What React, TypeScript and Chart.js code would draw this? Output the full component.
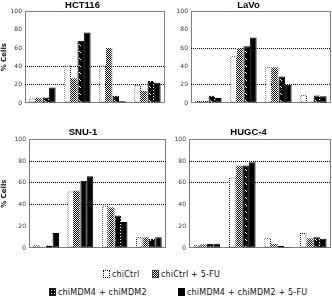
import React, { useEffect, useRef } from "react";
import { Chart, registerables } from "chart.js";
Chart.register(...registerables);

const categories = ["Sub G1", "G1", "S", "G2/M"];
const seriesNames = ["chiCtrl", "chiCtrl + 5-FU", "chiMDM4 + chiMDM2", "chiMDM4 + chiMDM2 + 5-FU"];
const yTickMin = 0;
const yTickMax = 100;
const yTickStep = 20;

const hct116Ctrl = [5, 41, 41, 20];
const hct116Ctrl5FU = [6, 27, 60, 13];
const hct116Mdm = [6, 68, 8, 24];
const hct116Mdm5FU = [17, 77, 2, 22];

const lavoCtrl = [2.5, 51, 39, 9];
const lavoCtrl5FU = [2.5, 60, 39, 1.6];
const lavoMdm = [8, 62, 29, 8.2];
const lavoMdm5FU = [5.4, 71.5, 20, 7.3];

const snu1Ctrl = [3, 52, 39, 10];
const snu1Ctrl5FU = [1.2, 53, 37.5, 10];
const snu1Mdm = [2.2, 62, 30, 8.3];
const snu1Mdm5FU = [13.8, 66, 24, 10];

const hugc4Ctrl = [3, 65, 9, 13.7];
const hugc4Ctrl5FU = [3.4, 76, 4, 9];
const hugc4Mdm = [4, 76, 2, 10];
const hugc4Mdm5FU = [4, 79, 1, 8.5];

const panelTitles = ["HCT116", "LaVo", "SNU-1", "HUGC-4"];
const panelSeries = [
  [hct116Ctrl, hct116Ctrl5FU, hct116Mdm, hct116Mdm5FU],
  [lavoCtrl, lavoCtrl5FU, lavoMdm, lavoMdm5FU],
  [snu1Ctrl, snu1Ctrl5FU, snu1Mdm, snu1Mdm5FU],
  [hugc4Ctrl, hugc4Ctrl5FU, hugc4Mdm, hugc4Mdm5FU],
];
const panelGridValues = [
  [20, 40],
  [20, 60],
  [40, 60, 80],
  [60, 80],
];

type Layout = {
  left: number; top: number; width: number; height: number;
  yWidth: number; padRight: number; padBottom: number;
  yTitle: boolean; xLabels: boolean; titleTop: number; titleBottom: number;
};

const layouts: Layout[] = [
  { left: 0, top: 0, width: 166, height: 122, yWidth: 25, padRight: 1, padBottom: 5, yTitle: true, xLabels: false, titleTop: 0, titleBottom: 0 },
  { left: 166, top: 0, width: 166, height: 122, yWidth: 25, padRight: 1, padBottom: 5, yTitle: false, xLabels: false, titleTop: 0, titleBottom: 0 },
  { left: 0, top: 125, width: 168, height: 137, yWidth: 29, padRight: 2, padBottom: 0, yTitle: true, xLabels: true, titleTop: 2, titleBottom: 1 },
  { left: 166, top: 125, width: 166, height: 137, yWidth: 23, padRight: 1, padBottom: 0, yTitle: false, xLabels: true, titleTop: 2, titleBottom: 1 },
];

function makePattern(ctx: CanvasRenderingContext2D, w: number, h: number, draw: (g: CanvasRenderingContext2D) => void) {
  const c = document.createElement("canvas");
  c.width = w;
  c.height = h;
  const g = c.getContext("2d")!;
  draw(g);
  return ctx.createPattern(c, "repeat")!;
}

const frameDotted = {
  id: "frameDotted",
  beforeDatasetsDraw(chart: any) {
    const { ctx, chartArea } = chart;
    const l = Math.round(chartArea.left) + 0.5;
    const t = Math.round(chartArea.top) + 0.5;
    const r = Math.round(chartArea.right) - 0.5;
    const b = Math.round(chartArea.bottom) - 0.5;
    ctx.save();
    ctx.strokeStyle = "#000";
    ctx.lineWidth = 1;
    ctx.setLineDash([1, 1]);
    ctx.beginPath();
    ctx.moveTo(l, t); ctx.lineTo(r, t); ctx.lineTo(r, b); ctx.lineTo(l, b); ctx.closePath();
    ctx.stroke();
    ctx.restore();
  },
};

function Panel({ index }: { index: number }) {
  const ref = useRef<HTMLCanvasElement>(null);
  const L = layouts[index];
  useEffect(() => {
    const canvas = ref.current!;
    const ctx = canvas.getContext("2d")!;
    const checker = makePattern(ctx, 2, 2, (g) => {
      g.fillStyle = "#fff"; g.fillRect(0, 0, 2, 2);
      g.fillStyle = "#000"; g.fillRect(0, 0, 1, 1); g.fillRect(1, 1, 1, 1);
    });
    const dots = makePattern(ctx, 2, 2, (g) => {
      g.fillStyle = "#000"; g.fillRect(0, 0, 1, 1); g.fillRect(1, 1, 1, 1);
    });
    const whiteDots = makePattern(ctx, 3, 3, (g) => {
      g.fillStyle = "#000"; g.fillRect(0, 0, 3, 3);
      g.fillStyle = "#fff"; g.fillRect(0, 0, 1, 1);
    });
    const dashes = makePattern(ctx, 7, 7, (g) => {
      g.fillStyle = "#000"; g.fillRect(0, 0, 7, 7);
      g.fillStyle = "#fff"; g.fillRect(2, 2, 1, 1); g.fillRect(3, 3, 1, 1);
    });
    const fills = ["#fff", checker, dashes, "#000"];
    const borders = [dots, checker, whiteDots, "#000"];
    const shown = panelGridValues[index];
    const chart = new Chart(canvas, {
      type: "bar",
      data: {
        labels: categories,
        datasets: panelSeries[index].map((vals, i) => ({
          label: seriesNames[i],
          data: vals,
          backgroundColor: fills[i] as any,
          borderColor: borders[i] as any,
          borderWidth: 1,
          borderSkipped: false,
          categoryPercentage: 0.75,
          barPercentage: 1,
        })),
      },
      options: {
        animation: false,
        responsive: false,
        devicePixelRatio: 1,
        layout: { padding: { left: 0, right: L.padRight, top: 0, bottom: L.padBottom } },
        plugins: {
          legend: { display: false },
          tooltip: { enabled: false },
          title: {
            display: true,
            text: panelTitles[index],
            color: "#000",
            font: { family: "Liberation Sans Narrow, Liberation Sans, sans-serif", size: 9.5 },
            padding: { top: L.titleTop, bottom: L.titleBottom },
          },
        },
        scales: {
          x: {
            display: L.xLabels,
            grid: { display: false },
            border: { display: false },
            ticks: {
              color: "#111",
              padding: 5,
              maxRotation: 0,
              autoSkip: false,
              font: { family: "Liberation Sans Narrow, Liberation Sans, sans-serif", size: 7, weight: "bold" },
            },
            afterFit: (s: any) => { s.height = 14; },
          },
          y: {
            min: yTickMin,
            max: yTickMax,
            ticks: {
              stepSize: yTickStep,
              color: "#333",
              padding: 3,
              font: { family: "DejaVu Sans, sans-serif", size: 6 },
            },
            grid: {
              drawTicks: false,
              lineWidth: 1,
              color: (c: any) => (c.tick && shown.includes(c.tick.value) ? "#000" : "rgba(0,0,0,0)"),
            },
            border: { display: false, dash: [1, 1] },
            title: {
              display: L.yTitle,
              text: "% Cells",
              color: "#111",
              padding: 0,
              font: { family: "DejaVu Sans, sans-serif", size: 7, weight: "bold" },
            },
            afterFit: (s: any) => { s.width = L.yWidth; },
          },
        },
      },
      plugins: [frameDotted],
    });
    return () => chart.destroy();
  }, [index]);
  return (
    <canvas
      ref={ref}
      width={L.width}
      height={L.height}
      style={{ position: "absolute", left: L.left, top: L.top, width: L.width, height: L.height }}
    />
  );
}

const swatchStyles: React.CSSProperties[] = [
  { background: "#fff", border: "1px dotted #000" },
  { background: "repeating-conic-gradient(#000 0 25%, #fff 0 50%) 0 0/2px 2px", border: "1px solid #444" },
  { background: "radial-gradient(#fff 0.4px, transparent 0.6px) 0 0/3px 3px, #000", border: "1px solid #222" },
  { background: "#000", border: "1px solid #000" },
];
const legendPos = [
  { x: 103, y: 274 },
  { x: 152, y: 274 },
  { x: 49, y: 292 },
  { x: 178, y: 292 },
];

function LegendItem({ i }: { i: number }) {
  const p = legendPos[i];
  return (
    <div style={{ position: "absolute", left: p.x, top: p.y - 5, height: 10, display: "flex", alignItems: "center", whiteSpace: "nowrap" }}>
      <div style={{ width: 5, height: 6, boxSizing: "content-box", ...swatchStyles[i] }} />
      <span style={{ marginLeft: 2, font: "8px 'DejaVu Sans', sans-serif", color: "#111", letterSpacing: 0.2 }}>{seriesNames[i]}</span>
    </div>
  );
}

export default function App() {
  return (
    <div style={{ position: "absolute", left: 0, top: 0, width: 332, height: 299, background: "#fff", overflow: "hidden" }}>
      {layouts.map((_, i) => <Panel key={i} index={i} />)}
      {seriesNames.map((_, i) => <LegendItem key={i} i={i} />)}
    </div>
  );
}
